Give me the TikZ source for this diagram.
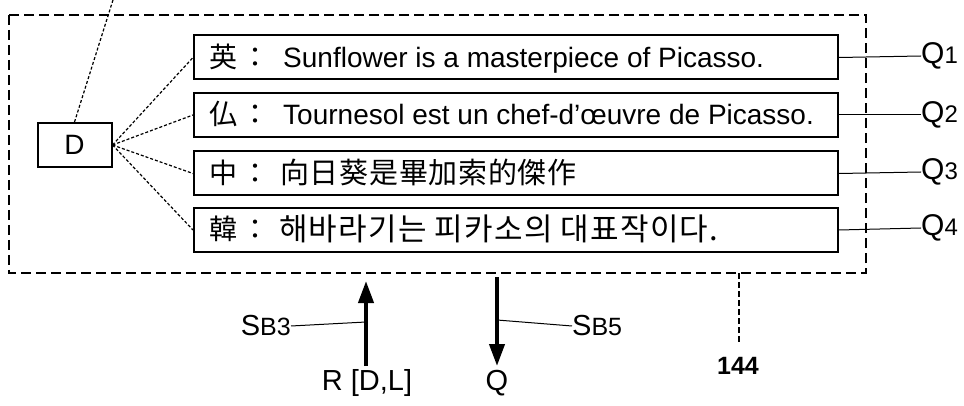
\documentclass[tikz,border=0pt]{standalone}
\usepackage{fontspec}
\setmainfont{Liberation Sans}
\newfontfamily\cjk{Noto Sans CJK JP}
\newfontfamily\chn[LetterSpace=2.5]{Noto Sans CJK JP}
\newfontfamily\kor[LetterSpace=4]{Noto Sans CJK KR}
\usetikzlibrary{arrows.meta}
\begin{document}
\begin{tikzpicture}[x=1pt,y=-1pt,
  tbox/.style={draw, line width=2pt, minimum width=644pt, minimum height=44pt, inner sep=0pt},
  dbox/.style={draw, line width=2pt, minimum width=74pt, minimum height=44pt, inner sep=0pt, font=\fontsize{28}{30}\selectfont},
  lab/.style={anchor=base west, inner sep=0pt, font=\cjk\fontsize{28}{30}\selectfont},
  latin/.style={anchor=base west, inner sep=0pt, font=\fontsize{28}{30}\selectfont},
  chin/.style={anchor=base west, inner sep=0pt, font=\chn\fontsize{29}{30}\selectfont},
  kort/.style={anchor=base west, inner sep=0pt, font=\kor\fontsize{31}{32}\selectfont},
  qlab/.style={anchor=west, inner sep=0pt, font=\fontsize{30}{32}\selectfont},
  plain/.style={inner sep=0pt, font=\fontsize{29}{31}\selectfont},
  fine/.style={dash pattern=on 3pt off 2pt, line width=1.2pt},
  outer/.style={dash pattern=on 10pt off 5pt, line width=2pt},
  thin/.style={line width=1pt},
  bigarrow/.style={line width=4pt, -{Triangle[length=22pt,width=15pt]}}
]
\useasboundingbox (0,0) rectangle (964,406);

% outer dashed frame
\draw[outer] (9,15) rectangle (866,273);

% D box
\node[dbox] (D) at (74.5,145) {D};
\coordinate (topend) at (113,0);
\draw[fine] (D.north) -- (topend);

% sentence boxes
\node[tbox] (b1) at (516,57.5) {};
\node[tbox] (b2) at (516,115) {};
\node[tbox] (b3) at (516,173.5) {};
\node[tbox] (b4) at (516,230) {};

\node[lab] (l1) at (209,67.5) {英\hspace{4pt}：};
\node[latin] (t1) at (283,67.5) {Sunflower is a masterpiece of Picasso.};
\node[lab] (l2) at (209,125) {仏\hspace{4pt}：};
\node[latin] (t2) at (283,125) {Tournesol est un chef-d'œuvre de Picasso.};
\node[lab] (l3) at (209,183.5) {中\hspace{4pt}：};
\node[chin] (t3) at (280,183.5) {向日葵是畢加索的傑作};
\node[lab] (l4) at (209,240) {韓\hspace{4pt}：};
\node[kort] (t4) at (279,241) {해바라기는 피카소의 대표작이다.};

% D to boxes
\foreach \b in {b1,b2,b3,b4} \draw[fine] (D.east) -- (\b.west);

% Q labels
\newcommand{\qq}[1]{Q{\fontsize{24}{26}\selectfont #1}}
\node[qlab] (q1) at (921,56) {\qq{1}};
\node[qlab] (q2) at (921,115) {\qq{2}};
\node[qlab] (q3) at (921,172) {\qq{3}};
\node[qlab] (q4) at (921,228) {\qq{4}};
\draw[thin] (b1.east) -- (q1.west);
\draw[thin] (b2.east) -- (q2.west);
\draw[thin] (b3.east) -- (q3.west);
\draw[thin] (b4.east) -- (q4.west);

% arrows
\node[plain, anchor=base] (rl) at (367,390) {R [D,L]};
\coordinate (rbot) at (366,366);
\coordinate (rtip) at (366,281);
\draw[bigarrow] (rbot) -- (rtip);
\node[plain, anchor=base] (ql) at (497,390) {Q};
\coordinate (qtop) at (497,277);
\coordinate (qtip) at (497,366);
\draw[bigarrow] (qtop) -- (qtip);

% SB labels
\node[plain, anchor=east] (sb3) at (291,326) {S{\fontsize{25}{27}\selectfont B3}};
\coordinate (sb3end) at (366,322);
\draw[thin] (sb3.east) -- (sb3end);
\node[plain, anchor=west] (sb5) at (572,326) {S{\fontsize{25}{27}\selectfont B5}};
\coordinate (sb5end) at (497,320);
\draw[thin] (sb5end) -- (sb5.west);

% 144
\coordinate (f144) at (739,273);
\coordinate (e144) at (739,343);
\node[inner sep=0pt, font=\bfseries\fontsize{25}{27}\selectfont] (n144) at (738,366) {144};
\draw[dash pattern=on 6pt off 3pt, line width=1.5pt] (f144) -- (e144);
\end{tikzpicture}
\end{document}
